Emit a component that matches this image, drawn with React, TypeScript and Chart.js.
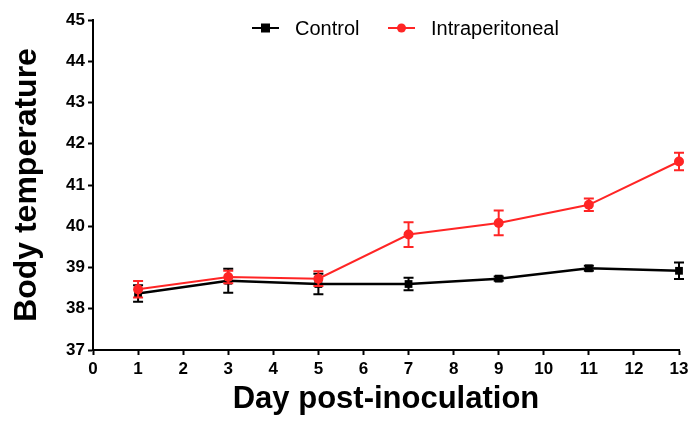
import React, { useEffect, useRef } from "react";
import { Chart, registerables } from "chart.js";

Chart.register(...registerables);

const days = [1, 3, 5, 7, 9, 11, 13];
const controlMean = [38.37, 38.68, 38.6, 38.6, 38.73, 38.98, 38.92];
const controlErr = [0.2, 0.29, 0.25, 0.15, 0.05, 0.06, 0.2];
const ipMean = [38.47, 38.77, 38.73, 39.8, 40.08, 40.52, 41.57];
const ipErr = [0.2, 0.15, 0.18, 0.3, 0.3, 0.15, 0.21];
const seriesNames = ["Control", "Intraperitoneal"];
const xTitle = "Day post-inoculation";
const yTitle = "Body temperature";

const RED = "#ff2525";
const BLACK = "#000000";
const FONT = "'Liberation Sans', Arial, sans-serif";

const errorBarPlugin = {
  id: "errorBars",
  beforeDatasetDraw(chart: any, args: any) {
    const ds = chart.data.datasets[args.index];
    const errs: number[] = ds.errors || [];
    const meta = args.meta;
    const yScale = chart.scales.y;
    const ctx = chart.ctx;
    ctx.save();
    ctx.strokeStyle = ds.borderColor;
    ctx.lineWidth = 2;
    meta.data.forEach((pt: any, i: number) => {
      const v = ds.data[i].y;
      const e = errs[i] || 0;
      const yTop = yScale.getPixelForValue(v + e);
      const yBot = yScale.getPixelForValue(v - e);
      const x = pt.x;
      ctx.beginPath();
      ctx.moveTo(x, yTop);
      ctx.lineTo(x, yBot);
      ctx.moveTo(x - 5, yTop);
      ctx.lineTo(x + 5, yTop);
      ctx.moveTo(x - 5, yBot);
      ctx.lineTo(x + 5, yBot);
      ctx.stroke();
    });
    ctx.restore();
  },
};

const legendPlugin = {
  id: "customLegend",
  afterDraw(chart: any) {
    const { ctx, chartArea } = chart;
    const y = chartArea.top + 8;
    const items = [
      { name: seriesNames[0], color: BLACK, style: "rect", x: chartArea.left + 159 },
      { name: seriesNames[1], color: RED, style: "circle", x: chartArea.left + 295 },
    ];
    ctx.save();
    items.forEach((it) => {
      ctx.strokeStyle = it.color;
      ctx.fillStyle = it.color;
      ctx.lineWidth = 2;
      ctx.beginPath();
      ctx.moveTo(it.x, y);
      ctx.lineTo(it.x + 27, y);
      ctx.stroke();
      const cx = it.x + 13.5;
      if (it.style === "rect") {
        ctx.fillRect(cx - 4.5, y - 4.5, 9, 9);
      } else {
        ctx.beginPath();
        ctx.arc(cx, y, 4.5, 0, Math.PI * 2);
        ctx.fill();
      }
      ctx.fillStyle = "#000";
      ctx.font = `20px ${FONT}`;
      ctx.textBaseline = "middle";
      ctx.textAlign = "left";
      ctx.fillText(it.name, it.x + 43, y + 1);
    });
    ctx.restore();
  },
};

export default function App() {
  const canvasRef = useRef<HTMLCanvasElement | null>(null);

  useEffect(() => {
    document.body.style.margin = "0";
    const canvas = canvasRef.current;
    if (!canvas) return;
    const chart = new Chart(canvas, {
      type: "line",
      data: {
        datasets: [
          {
            label: seriesNames[0],
            data: days.map((d, i) => ({ x: d, y: controlMean[i] })),
            errors: controlErr,
            borderColor: BLACK,
            backgroundColor: BLACK,
            borderWidth: 2.5,
            pointStyle: "rect",
            pointRadius: 5.5,
            pointBorderWidth: 0,
            pointHoverRadius: 5.5,
            order: 2,
            clip: false,
          } as any,
          {
            label: seriesNames[1],
            data: days.map((d, i) => ({ x: d, y: ipMean[i] })),
            errors: ipErr,
            borderColor: RED,
            backgroundColor: RED,
            borderWidth: 2,
            pointStyle: "circle",
            pointRadius: 5,
            pointBorderWidth: 0,
            pointHoverRadius: 5,
            order: 1,
            clip: false,
          } as any,
        ],
      },
      options: {
        animation: false,
        responsive: false,
        maintainAspectRatio: false,
        layout: { padding: { top: 20, right: 10, left: 0, bottom: 0 } },
        plugins: {
          legend: { display: false },
          tooltip: { enabled: false },
        },
        scales: {
          x: {
            type: "linear",
            min: 0,
            max: 13,
            afterFit: (s: any) => {
              s.height = 73;
              s.paddingLeft = 0;
              s.paddingRight = 0;
            },
            border: { display: true, color: "#000", width: 2 },
            grid: {
              display: true,
              drawOnChartArea: false,
              drawTicks: true,
              tickLength: 5,
              tickColor: "#000",
              tickWidth: 2,
            },
            ticks: {
              stepSize: 1,
              padding: 4,
              color: "#000",
              font: { family: FONT, size: 17, weight: "bold" },
            },
            title: {
              display: true,
              text: xTitle,
              color: "#000",
              font: { family: FONT, size: 31, weight: "bold" },
              padding: { top: 0, bottom: 5 },
            },
          },
          y: {
            type: "linear",
            min: 37,
            max: 45,
            afterFit: (s: any) => {
              s.width = 93;
              s.paddingTop = 0;
              s.paddingBottom = 0;
            },
            border: { display: true, color: "#000", width: 2 },
            grid: {
              display: true,
              drawOnChartArea: false,
              drawTicks: true,
              tickLength: 5,
              tickColor: "#000",
              tickWidth: 2,
            },
            ticks: {
              stepSize: 1,
              padding: 3,
              color: "#000",
              font: { family: FONT, size: 17, weight: "bold" },
            },
            title: {
              display: true,
              text: yTitle,
              color: "#000",
              font: { family: FONT, size: 32, weight: "bold" },
              padding: { top: 8, bottom: 0 },
            },
          },
        },
      } as any,
      plugins: [errorBarPlugin, legendPlugin],
    });
    return () => chart.destroy();
  }, []);

  return (
    <div style={{ width: 689, height: 423 }}>
      <canvas ref={canvasRef} width={689} height={423} style={{ width: 689, height: 423 }} />
    </div>
  );
}
